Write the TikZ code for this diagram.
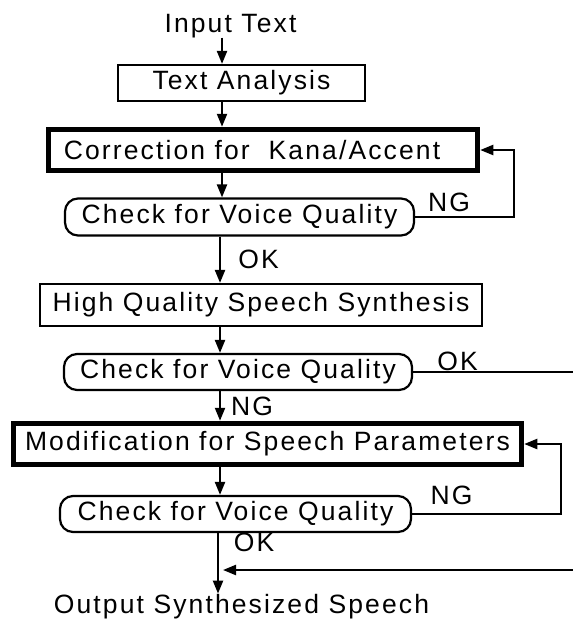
\documentclass[tikz,border=0pt]{standalone}
\usepackage{fontspec}
\setmainfont{Liberation Sans}[LetterSpace=8]
\usetikzlibrary{arrows.meta}
\begin{document}
\begin{tikzpicture}[x=1pt,y=-1pt,
  every node/.style={font=\fontsize{26.5}{31}\selectfont, inner sep=0pt},
  thinbox/.style={draw, line width=2.2pt},
  thickbox/.style={draw, line width=5.5pt},
  checkbox/.style={draw, line width=2.2pt, rounded corners=13pt},
  conn/.style={line width=2.2pt},
  arr/.style={line width=2.2pt, -{Triangle[length=13pt,width=10pt]}},
  lbl/.style={anchor=base}]
\useasboundingbox (0,0) rectangle (573,619);
% columns
\coordinate (xa) at (222,0);
\coordinate (xb) at (220,0);
\coordinate (xc) at (218,0);
\coordinate (loopa) at (514,0);
\coordinate (loopb) at (561,0);
\coordinate (redge) at (573,0);
\coordinate (mergeS) at (573,570);
% nodes
\node[lbl] (in) at (230.5,32) {Input Text};
\node[thinbox, minimum width=247pt, minimum height=36pt] (ta) at (241.5,83) {Text Analysis};
\node[thickbox, minimum width=429pt, minimum height=41pt] (corr) at (263,150) {\hspace*{-22pt}Correction for~~Kana/Accent};
\node[checkbox, minimum width=349pt, minimum height=37pt] (c1) at (239.5,217) {Check for Voice Quality};
\node[thinbox, minimum width=442pt, minimum height=42pt] (hq) at (261,305) {High Quality Speech Synthesis};
\node[checkbox, minimum width=348pt, minimum height=36pt] (c2) at (238,372) {Check for Voice Quality};
\node[thickbox, minimum width=508pt, minimum height=41pt] (mod) at (267.5,444) {Modification for Speech Parameters};
\node[checkbox, minimum width=351pt, minimum height=36pt] (c3) at (235.5,514) {Check for Voice Quality};
\node[lbl] (out) at (241.5,613) {Output Synthesized Speech};
% labels
\node[lbl] (ng1) at (449,211) {NG};
\node[lbl] (ok1) at (258.5,268) {OK};
\node[lbl] (ok2) at (457.5,370) {OK};
\node[lbl] (ng2) at (252,415) {NG};
\node[lbl] (ng3) at (451.5,504) {NG};
\node[lbl] (ok3) at (254,551) {OK};
% main flow
\draw[arr] (in.south -| xa) -- (ta.north -| xa);
\draw[arr] (ta.south -| xa) -- (corr.north -| xa);
\draw[arr] (corr.south -| xa) -- (c1.north -| xa);
\draw[arr] (c1.south -| xb) -- (hq.north -| xb);
\draw[arr] (hq.south -| xb) -- (c2.north -| xb);
\draw[arr] (c2.south -| xb) -- (mod.north -| xb);
\draw[arr] (mod.south -| xb) -- (c3.north -| xb);
\draw[arr] (c3.south -| xc) -- (out.north -| xc);
% loops
\draw[arr] (c1.east) -- (c1.east -| loopa) -- (corr.east -| loopa) -- (corr.east);
\draw[arr] (c3.east) -- (c3.east -| loopb) -- (mod.east -| loopb) -- (mod.east);
% OK bypass
\draw[conn] (c2.east) -- (c2.east -| redge);
\coordinate (mergeE) at (223,570);
\draw[arr] (mergeS) -- (mergeE);
\end{tikzpicture}
\end{document}
